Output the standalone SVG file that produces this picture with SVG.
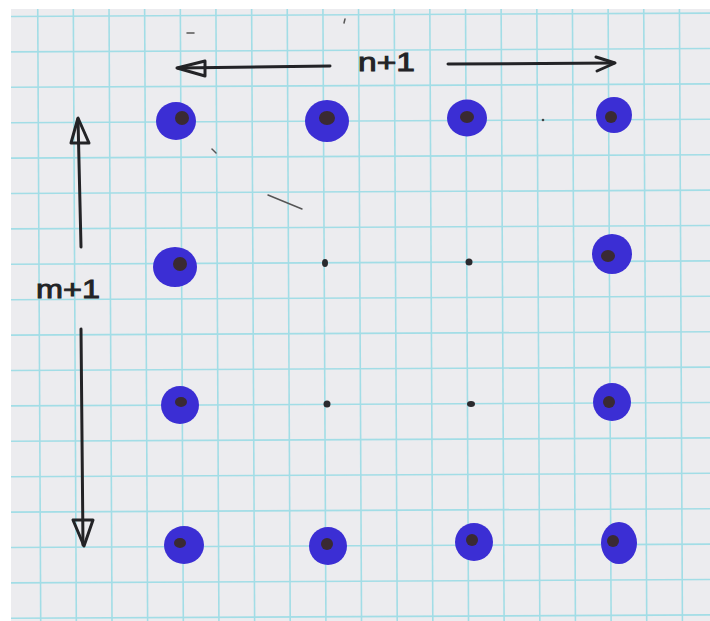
<svg xmlns="http://www.w3.org/2000/svg" width="710" height="621" viewBox="0 0 710 621">
  <defs>
    <style>
      .grid line { stroke: #a2dde6; stroke-width: 1.6; }
      .dot { fill: #3b2ed4; }
      .core { fill: #3a2a33; }
      .pt { fill: #2a2a2e; }
      .ink { fill: none; stroke: #232326; stroke-width: 3; stroke-linecap: round; stroke-linejoin: round; }
      .lbl { font-family: "Liberation Sans", "DejaVu Sans", sans-serif; font-size: 26px; fill: #232326; stroke: #232326; stroke-width: 0.9; }
      .mark { stroke: #555; stroke-width: 1.5; stroke-linecap: round; fill: none; }
    </style>
    <clipPath id="paper">
      <rect x="11" y="9" width="699" height="612"/>
    </clipPath>
  </defs>

  <rect x="0" y="0" width="710" height="621" fill="#ffffff"/>
  <rect x="11" y="9" width="699" height="612" fill="#ececef"/>

  <g class="grid" clip-path="url(#paper)">
    <g transform="rotate(-0.28 360 310)">
      <line x1="3.5" y1="-20" x2="3.5" y2="640"/>
      <line x1="39.2" y1="-20" x2="39.2" y2="640"/>
      <line x1="74.8" y1="-20" x2="74.8" y2="640"/>
      <line x1="110.5" y1="-20" x2="110.5" y2="640"/>
      <line x1="146.1" y1="-20" x2="146.1" y2="640"/>
      <line x1="181.8" y1="-20" x2="181.8" y2="640"/>
      <line x1="217.4" y1="-20" x2="217.4" y2="640"/>
      <line x1="253.1" y1="-20" x2="253.1" y2="640"/>
      <line x1="288.7" y1="-20" x2="288.7" y2="640"/>
      <line x1="324.4" y1="-20" x2="324.4" y2="640"/>
      <line x1="360" y1="-20" x2="360" y2="640"/>
      <line x1="395.7" y1="-20" x2="395.7" y2="640"/>
      <line x1="431.3" y1="-20" x2="431.3" y2="640"/>
      <line x1="467" y1="-20" x2="467" y2="640"/>
      <line x1="502.6" y1="-20" x2="502.6" y2="640"/>
      <line x1="538.3" y1="-20" x2="538.3" y2="640"/>
      <line x1="573.9" y1="-20" x2="573.9" y2="640"/>
      <line x1="609.6" y1="-20" x2="609.6" y2="640"/>
      <line x1="645.2" y1="-20" x2="645.2" y2="640"/>
      <line x1="680.9" y1="-20" x2="680.9" y2="640"/>
      <line x1="716.5" y1="-20" x2="716.5" y2="640"/>

      <line x1="-20" y1="14.8" x2="740" y2="14.8"/>
      <line x1="-20" y1="50.2" x2="740" y2="50.2"/>
      <line x1="-20" y1="85.6" x2="740" y2="85.6"/>
      <line x1="-20" y1="121" x2="740" y2="121"/>
      <line x1="-20" y1="156.4" x2="740" y2="156.4"/>
      <line x1="-20" y1="191.8" x2="740" y2="191.8"/>
      <line x1="-20" y1="227.2" x2="740" y2="227.2"/>
      <line x1="-20" y1="262.6" x2="740" y2="262.6"/>
      <line x1="-20" y1="298" x2="740" y2="298"/>
      <line x1="-20" y1="333.4" x2="740" y2="333.4"/>
      <line x1="-20" y1="368.8" x2="740" y2="368.8"/>
      <line x1="-20" y1="404.2" x2="740" y2="404.2"/>
      <line x1="-20" y1="439.6" x2="740" y2="439.6"/>
      <line x1="-20" y1="475" x2="740" y2="475"/>
      <line x1="-20" y1="510.4" x2="740" y2="510.4"/>
      <line x1="-20" y1="545.8" x2="740" y2="545.8"/>
      <line x1="-20" y1="581.2" x2="740" y2="581.2"/>
      <line x1="-20" y1="616.6" x2="740" y2="616.6"/>
    </g>
  </g>

  <!-- stray pen marks -->
  <g id="marks">
    <line class="mark" x1="187" y1="33" x2="194" y2="33" stroke-width="2"/>
    <line class="mark" x1="268" y1="195" x2="302" y2="209" stroke="#777"/>
    <line class="mark" x1="212" y1="149" x2="216" y2="153" stroke="#888"/>
    <circle cx="543" cy="120" r="1.3" fill="#444"/>
    <line class="mark" x1="345" y1="19" x2="344" y2="23" stroke="#888"/>
  </g>

  <g id="connectors">
    <g id="arrow-n-left">
      <line class="ink" x1="330" y1="66" x2="178" y2="68"/>
      <polygon class="ink" points="177,68 205,61 205,76"/>
    </g>
    <g id="arrow-n-right">
      <line class="ink" x1="448" y1="64" x2="614" y2="63"/>
      <polyline class="ink" points="596,57 615,63 597,71"/>
    </g>
    <g id="arrow-m-up">
      <line class="ink" x1="81" y1="247" x2="78" y2="119"/>
      <polygon class="ink" points="78,118 71,143 89,143"/>
    </g>
    <g id="arrow-m-down">
      <line class="ink" x1="81" y1="329" x2="83" y2="545"/>
      <polygon class="ink" points="73,520 93,520 84,546" fill="#232326" fill-opacity="0.5"/>
    </g>
  </g>

  <g id="labels">
    <text id="label-n" class="lbl" x="358" y="71" textLength="57" lengthAdjust="spacingAndGlyphs">n+1</text>
    <text id="label-m" class="lbl" x="36" y="298" textLength="64" lengthAdjust="spacingAndGlyphs">m+1</text>
  </g>

  <g id="nodes">
    <g id="p-0-0"><ellipse class="dot" cx="176" cy="121" rx="20" ry="19"/><ellipse class="core" cx="182" cy="118" rx="7" ry="7"/></g>
    <g id="p-0-1"><ellipse class="dot" cx="327" cy="121" rx="22" ry="21"/><ellipse class="core" cx="327" cy="118" rx="8" ry="7"/></g>
    <g id="p-0-2"><ellipse class="dot" cx="467" cy="118" rx="20" ry="18.5"/><ellipse class="core" cx="467" cy="117" rx="7" ry="6"/></g>
    <g id="p-0-3"><ellipse class="dot" cx="614" cy="115" rx="18" ry="18"/><ellipse class="core" cx="611" cy="117" rx="6" ry="6"/></g>

    <g id="p-1-0"><ellipse class="dot" cx="175" cy="267" rx="22" ry="20"/><ellipse class="core" cx="180" cy="264" rx="7" ry="7"/></g>
    <g id="p-1-1"><ellipse class="pt" cx="325" cy="263" rx="3" ry="4"/></g>
    <g id="p-1-2"><ellipse class="pt" cx="469" cy="262" rx="3.5" ry="3.5"/></g>
    <g id="p-1-3"><ellipse class="dot" cx="612" cy="254" rx="20" ry="20"/><ellipse class="core" cx="608" cy="256" rx="7" ry="6"/></g>

    <g id="p-2-0"><ellipse class="dot" cx="180" cy="405" rx="19" ry="19"/><ellipse class="core" cx="181" cy="402" rx="6" ry="5"/></g>
    <g id="p-2-1"><ellipse class="pt" cx="327" cy="404" rx="3.5" ry="3.5"/></g>
    <g id="p-2-2"><ellipse class="pt" cx="471" cy="404" rx="4" ry="3"/></g>
    <g id="p-2-3"><ellipse class="dot" cx="612" cy="402" rx="19" ry="19"/><ellipse class="core" cx="609" cy="402" rx="6" ry="6"/></g>

    <g id="p-3-0"><ellipse class="dot" cx="184" cy="545" rx="20" ry="19"/><ellipse class="core" cx="180" cy="543" rx="6" ry="5"/></g>
    <g id="p-3-1"><ellipse class="dot" cx="328" cy="546" rx="19" ry="19"/><ellipse class="core" cx="327" cy="544" rx="6" ry="6"/></g>
    <g id="p-3-2"><ellipse class="dot" cx="474" cy="542" rx="19" ry="19"/><ellipse class="core" cx="472" cy="540" rx="6" ry="6"/></g>
    <g id="p-3-3"><ellipse class="dot" cx="619" cy="543" rx="18" ry="21"/><ellipse class="core" cx="613" cy="541" rx="6" ry="6"/></g>
  </g>
</svg>
